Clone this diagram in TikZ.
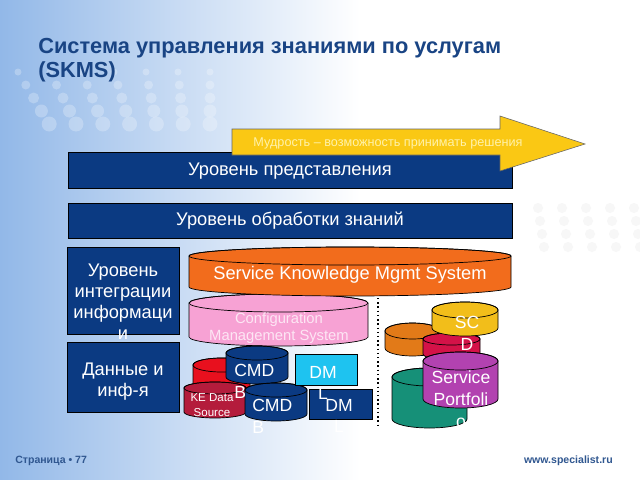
\documentclass[tikz,border=0pt]{standalone}
\usepackage{fontspec}
\setmainfont{Liberation Sans}
\usetikzlibrary{positioning}

\definecolor{skblue}{RGB}{11,58,130}
\definecolor{titleblue}{RGB}{25,68,132}
\definecolor{bgblue}{RGB}{146,184,232}
\definecolor{skorange}{RGB}{242,108,28}
\definecolor{cmspink}{RGB}{247,162,212}
\definecolor{cmstext}{RGB}{253,230,244}
\definecolor{dbred}{RGB}{232,16,30}
\definecolor{kered}{RGB}{180,28,60}
\definecolor{dmlcyan}{RGB}{30,195,240}
\definecolor{scorange}{RGB}{226,122,24}
\definecolor{scteal}{RGB}{22,144,120}
\definecolor{scyellow}{RGB}{242,190,26}
\definecolor{sccrimson}{RGB}{212,18,72}
\definecolor{scpurple}{RGB}{178,66,176}
\definecolor{wisdom}{RGB}{250,200,20}
\definecolor{wisdomtxt}{RGB}{255,242,170}

% drum: x1, y1, x2, y2, ry, fill
\newcommand{\drum}[6]{%
\pgfmathsetmacro\drumrx{(#3-#1)/2}
\filldraw[drumline, fill=#6] (#1,#2+#5) -- (#1,#4-#5) arc[start angle=180, end angle=0, x radius=\drumrx, y radius=#5] -- (#3,#2+#5) arc[start angle=0, end angle=-180, x radius=\drumrx, y radius=#5] -- cycle;
\draw[drumline] ({(#1+#3)/2},#2+#5) ellipse[x radius=\drumrx, y radius=#5];
}

\begin{document}
\begin{tikzpicture}[x=0.025cm, y=-0.025cm,
lvl/.style={draw=black, fill=skblue, inner sep=0pt},
lvltxt/.style={text=white, align=center, font=\fontsize{13}{15}\selectfont},
drumline/.style={draw=black, line width=0.5pt},
drumtxt/.style={text=white, align=center, inner sep=0pt, font=\fontsize{12.5}{15.5}\selectfont},
foot/.style={text=titleblue!90, font=\fontsize{7.5}{9}\selectfont\bfseries, inner sep=0pt}]

\useasboundingbox (0,0) rectangle (640,480);
% background
\fill[white] (0,0) rectangle (640,480);
\shade[left color=bgblue, right color=white] (0,0) rectangle (360,480);
\foreach \c in {0,...,6}
  \foreach \r in {0,...,4}
    \fill[white, opacity=0.25] ({18+\c*32+\r*(6-\c)*1.3},{72+\r*13}) circle[radius={3.5+\r*1}];
\foreach \c in {0,...,4}
  \foreach \r in {0,...,3}
    \fill[gray!6] ({538+\c*24+\r*2},{208+\r*13}) circle[radius=5];

% title
\node[anchor=base west, text=titleblue, font=\fontsize{15.5}{17}\selectfont\bfseries, inner sep=0pt] (title) at (38,53) {Система управления знаниями по услугам};
\node[anchor=base west, text=titleblue, font=\fontsize{15.5}{17}\selectfont\bfseries, inner sep=0pt] (skmstitle) at (38,77) {(SKMS)};

% levels
\node[lvl, minimum width=11.1cm, minimum height=0.9cm] (pres) at (290,170) {};
\node[lvltxt] (presT) at (290,171) {Уровень представления};
\node[lvl, minimum width=11.1cm, minimum height=0.875cm] (proc) at (290,220.5) {};
\node[lvltxt] (procT) at (290,221) {Уровень обработки знаний};
\node[lvl, minimum width=2.8cm, minimum height=2.175cm] (integ) at (123,290.5) {};
\node[lvltxt] (integT) at (123,302) {Уровень\\интеграции\\информаци\\и};
\node[lvl, minimum width=2.8cm, minimum height=1.75cm] (data) at (123,377) {};
\node[lvltxt] (dataT) at (123,382) {Данные и\\инф-я};

% wisdom arrow
\filldraw[draw=black!60, fill=wisdom, line width=0.4pt] (232,129) -- (500,129) -- (500,116) -- (585,144) -- (500,171) -- (500,155) -- (232,155) -- cycle;
\node[text=wisdomtxt, font=\fontsize{9}{11}\selectfont] (wis) at (388,143) {Мудрость – возможность принимать решения};

% stores
\drum{189}{294}{368}{346}{9}{cmspink}
\drum{189}{247}{511}{296}{9}{skorange}
\drum{193}{358}{250}{402}{7}{dbred}
\drum{184}{382}{246}{418}{6}{kered}
\drum{226}{346}{288}{384}{7}{skblue}
\drum{245}{383}{307}{421}{7}{skblue}
\node[lvl, fill=skblue, minimum width=1.575cm, minimum height=0.75cm] (dml2) at (340.5,404.5) {};
\node[lvl, fill=dmlcyan, minimum width=1.55cm, minimum height=0.775cm] (dml1) at (326,369.5) {};

\drum{385}{323}{440}{356}{8}{scorange}
\drum{392}{368}{467}{428}{9}{scteal}
\drum{423}{333}{480}{360}{6}{sccrimson}
\drum{432}{302}{498}{336}{8}{scyellow}
\drum{423}{352}{498}{408}{9}{scpurple}

\coordinate (divtop) at (378,298);
\coordinate (divbot) at (378,426);
\draw[dotted, line width=1pt] (divtop) -- (divbot);

% store labels
\node[drumtxt, font=\fontsize{13}{15}\selectfont] (skmsT) at (350,275) {Service Knowledge Mgmt System};
\node[drumtxt, text=cmstext, font=\fontsize{10.5}{12.5}\selectfont] (cmsT) at (279,328) {Configuration\\Management System};
\node[drumtxt, font=\fontsize{8.2}{10.5}\selectfont] (keT) at (212,405) {KE Data\\Source};
\node[drumtxt, align=left, anchor=north west] (cmdb1T) at (234,364) {CMD\\B};
\node[drumtxt, align=left, anchor=north west] (cmdb2T) at (252,399) {CMD\\B};
\node[drumtxt] (dml1T) at (323,383) {DM\\L};
\node[drumtxt] (dml2T) at (339,416) {DM\\L};
\node[drumtxt] (scdT) at (467,333) {SC\\D};
\node[drumtxt] (portT) at (461,399) {Service\\Portfoli\\o};

% footer
\node[foot, anchor=base west] (page) at (15,463) {Страница • 77};
\node[foot, anchor=base east] (site) at (613,463) {www.specialist.ru};
\end{tikzpicture}
\end{document}
